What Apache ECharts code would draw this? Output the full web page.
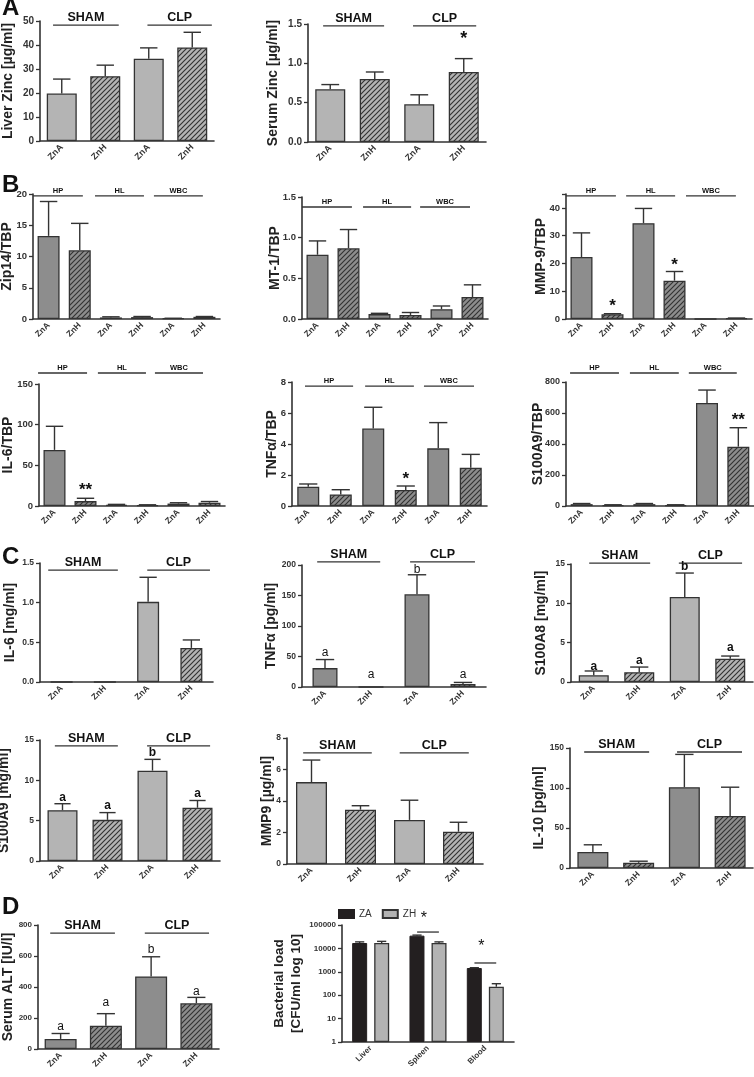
<!DOCTYPE html>
<html><head><meta charset="utf-8">
<script src="https://cdn.jsdelivr.net/npm/echarts@6/dist/echarts.min.js"></script>
<style>html,body{margin:0;padding:0;background:#fff}#c{width:754px;height:1077px}</style>
</head><body><div id="c"></div>
<script>
// ---------- categories ----------
const cat4 = ['ZnA','ZnH','ZnA','ZnH'];
const cat6 = ['ZnA','ZnH','ZnA','ZnH','ZnA','ZnH'];
const organs = ['Liver','Spleen','Blood'];

// ---------- data (mean, upper end of error bar) ----------
const liverZincMean = [19.8, 27.0, 34.3, 39.0];
const liverZincUpper = [25.8, 31.6, 38.8, 45.3];
const serumZincMean = [0.67, 0.80, 0.48, 0.89];
const serumZincUpper = [0.73, 0.89, 0.60, 1.06];

const zip14Mean = [13.3, 11.0, 0.25, 0.3, 0.1, 0.35];
const zip14Upper = [18.8, 15.3, 0.35, 0.4, 0.12, 0.4];
const mt1Mean = [0.79, 0.87, 0.06, 0.05, 0.12, 0.27];
const mt1Upper = [0.96, 1.10, 0.07, 0.08, 0.16, 0.42];
const mmp9TbpMean = [22.3, 1.7, 34.5, 13.8, 0, 0.3];
const mmp9TbpUpper = [31.0, 1.9, 39.8, 17.1, 0, 0.35];
const il6TbpMean = [69, 6, 1.5, 1, 3, 4];
const il6TbpUpper = [98, 9.5, 2, 1.5, 4, 5.5];
const tnfTbpMean = [1.25, 0.75, 5.0, 1.03, 3.72, 2.47];
const tnfTbpUpper = [1.42, 1.05, 6.37, 1.29, 5.38, 3.33];
const s100a9TbpMean = [12, 6, 12, 6, 665, 383];
const s100a9TbpUpper = [16, 8, 16, 8, 748, 505];

const il6Mean = [0, 0, 1.01, 0.43];
const il6Upper = [0, 0, 1.32, 0.53];
const tnfMean = [31, 0, 152, 5];
const tnfUpper = [45, 0, 184, 7.5];
const s100a8Mean = [0.85, 1.25, 10.8, 2.95];
const s100a8Upper = [1.4, 1.9, 13.85, 3.3];
const s100a9Mean = [6.3, 5.1, 11.2, 6.6];
const s100a9Upper = [7.1, 6.0, 12.6, 7.5];
const mmp9Mean = [5.2, 3.45, 2.8, 2.05];
const mmp9Upper = [6.6, 3.7, 4.05, 2.65];
const il10Mean = [20, 6.5, 101, 65];
const il10Upper = [29, 8.5, 142, 101];

const altMean = [65, 150, 468, 295];
const altUpper = [100, 228, 595, 333];

const bactZaMean = [17000, 35000, 1450];
const bactZaUpper = [19000, 37000, 1500];
const bactZhMean = [17000, 17000, 230];
const bactZhUpper = [20000, 19000, 310];

// ---------- style ----------
const FONT = '"Liberation Sans", Arial, Helvetica, sans-serif';
const LIGHT = '#b4b4b4', DARK = '#8d8d8d', INK = '#333333';
const NAME_FS = 14;
const hatchCache = {};
function hatch(bg){
  if (hatchCache[bg]) return hatchCache[bg];
  const s = 5, c = document.createElement('canvas');
  c.width = s; c.height = s;
  const g = c.getContext('2d');
  g.fillStyle = bg; g.fillRect(0,0,s,s);
  g.strokeStyle = '#333'; g.lineWidth = 1.15;
  g.beginPath();
  g.moveTo(0,s); g.lineTo(s,0);
  g.moveTo(-1,1); g.lineTo(1,-1);
  g.moveTo(s-1,s+1); g.lineTo(s+1,s-1);
  g.stroke();
  return (hatchCache[bg] = {image:c, repeat:'repeat'});
}

const grpB = (y, a, b, c) => [{t:'HP',from:a[0],to:a[1],y},{t:'HL',from:b[0],to:b[1],y},{t:'WBC',from:c[0],to:c[1],y}];
const grpC = (y, a, b) => [{t:'SHAM',from:a[0],to:a[1],y},{t:'CLP',from:b[0],to:b[1],y}];

const panels = [
  // A
  {box:[40,21,174,120], cats:cat4, mean:liverZincMean, upper:liverZincUpper, color:LIGHT, max:50, interval:10, dec:0,
   name:'Liver Zinc [µg/ml]', nameGap:24.5, barW:30, tickFont:10, catFont:9, cap:0.2, gFont:12.5,
   groups:grpC(48.3,[-0.2,1.31],[1.97,3.45]), annots:[]},
  {box:[308,24,178,118], cats:cat4, mean:serumZincMean, upper:serumZincUpper, color:LIGHT, max:1.5, interval:0.5, dec:1,
   name:'Serum Zinc [µg/ml]', nameGap:27.5, barW:30, tickFont:10, catFont:9, cap:0.2, gFont:12.5,
   groups:grpC(1.475,[-0.16,1.21],[1.86,3.28]), annots:[{t:'*',at:3,y:1.36,fs:18,bold:true}]},
  // B row 1
  {box:[33,194,187,125], cats:cat6, mean:zip14Mean, upper:zip14Upper, color:DARK, max:20, interval:5, dec:0,
   name:'Zip14/TBP', nameGap:19, barW:22, tickFont:9.5, catFont:8.5, cap:0.28, gFont:7.5,
   groups:grpB(19.7,[-0.5,1.1],[1.49,3.06],[3.38,4.95]), annots:[]},
  {box:[302,197,186,122], cats:cat6, mean:mt1Mean, upper:mt1Upper, color:DARK, max:1.5, interval:0.5, dec:1,
   name:'MT-1/TBP', nameGap:20, barW:22, tickFont:9.5, catFont:8.5, cap:0.28, gFont:7.5,
   groups:grpB(1.377,[-0.5,1.11],[1.47,3.02],[3.31,4.92]), annots:[]},
  {box:[566,194,186,125], cats:cat6, mean:mmp9TbpMean, upper:mmp9TbpUpper, color:DARK, max:45, interval:10, dec:0, hideMax:true,
   name:'MMP-9/TBP', nameGap:18, barW:22, tickFont:9.5, catFont:8.5, cap:0.28, gFont:7.5,
   groups:grpB(44.3,[-0.5,1.11],[1.44,3.02],[3.37,4.98]),
   annots:[{t:'*',at:1,y:5.8,fs:17,bold:true},{t:'*',at:3,y:20.6,fs:17,bold:true}]},
  // B row 2
  {box:[39,384,186,122], cats:cat6, mean:il6TbpMean, upper:il6TbpUpper, color:DARK, max:150, interval:50, dec:0,
   name:'IL-6/TBP', nameGap:23.5, barW:22, tickFont:9.5, catFont:8.5, cap:0.28, gFont:7.5,
   groups:grpB(163.5,[-0.53,1.05],[1.4,2.95],[3.24,4.79]), annots:[{t:'**',at:1,y:23.4,fs:17,bold:true}]},
  {box:[292,382,195,124], cats:cat6, mean:tnfTbpMean, upper:tnfTbpUpper, color:DARK, max:8, interval:2, dec:0,
   name:'TNFα/TBP', nameGap:13, barW:22, tickFont:9.5, catFont:8.5, cap:0.28, gFont:7.5,
   groups:grpB(7.74,[-0.1,1.38],[1.75,3.25],[3.56,5.1]), annots:[{t:'*',at:3,y:1.94,fs:17,bold:true}]},
  {box:[566,382,188,124], cats:cat6, mean:s100a9TbpMean, upper:s100a9TbpUpper, color:DARK, max:800, interval:200, dec:0,
   name:'S100A9/TBP', nameGap:21, barW:22, tickFont:9, catFont:8.5, cap:0.28, gFont:7.5,
   groups:grpB(858,[-0.37,1.19],[1.54,3.1],[3.42,4.95]), annots:[{t:'**',at:5,y:574,fs:17,bold:true}]},
  // C row 1
  {box:[40,563,173,119], cats:cat4, mean:il6Mean, upper:il6Upper, color:LIGHT, max:1.5, interval:0.5, dec:1,
   name:'IL-6 [mg/ml]', nameGap:22.5, barW:22, tickFont:8.5, catFont:8.5, cap:0.2, gFont:12.5,
   groups:grpC(1.41,[-0.31,1.3],[1.98,3.43]), annots:[]},
  {box:[302,565,184,122], cats:cat4, mean:tnfMean, upper:tnfUpper, color:DARK, max:200, interval:50, dec:0,
   name:'TNFα [pg/ml]', nameGap:23.5, barW:25, tickFont:8.5, catFont:8.5, cap:0.2, gFont:12.5,
   groups:grpC(205,[-0.17,1.2],[1.85,3.26]),
   annots:[{t:'a',at:0,y:57,fs:12},{t:'a',at:1,y:20,fs:12},{t:'b',at:2,y:192,fs:12},{t:'a',at:3,y:20,fs:12}]},
  {box:[571,564,182,118], cats:cat4, mean:s100a8Mean, upper:s100a8Upper, color:LIGHT, max:15, interval:5, dec:0,
   name:'S100A8 [mg/ml]', nameGap:22.5, barW:30, tickFont:8.5, catFont:8.5, cap:0.2, gFont:12.5,
   groups:grpC(15.1,[-0.1,1.24],[1.87,3.26]),
   annots:[{t:'a',at:0,y:2.0,fs:12,bold:true},{t:'a',at:1,y:2.7,fs:12,bold:true},{t:'b',at:2,y:14.6,fs:12,bold:true},{t:'a',at:3,y:4.3,fs:12,bold:true}]},
  // C row 2
  {box:[40,740,180,121], cats:cat4, mean:s100a9Mean, upper:s100a9Upper, color:LIGHT, max:15, interval:5, dec:0,
   name:'S100A9 [mg/ml]', nameGap:28.5, barW:30, tickFont:8.5, catFont:8.5, cap:0.18, gFont:12.5,
   groups:grpC(14.26,[-0.17,1.23],[1.88,3.28]),
   annots:[{t:'a',at:0,y:7.9,fs:12,bold:true},{t:'a',at:1,y:6.8,fs:12,bold:true},{t:'b',at:2,y:13.4,fs:12,bold:true},{t:'a',at:3,y:8.4,fs:12,bold:true}]},
  {box:[287,738,196,126], cats:cat4, mean:mmp9Mean, upper:mmp9Upper, color:LIGHT, max:8, interval:2, dec:0,
   name:'MMP9 [µg/ml]', nameGap:13, barW:31, tickFont:8.5, catFont:8.5, cap:0.18, gFont:12.5,
   groups:grpC(7.05,[-0.17,1.23],[1.8,3.21]), annots:[]},
  {box:[570,748,183,120], cats:cat4, mean:il10Mean, upper:il10Upper, color:DARK, max:150, interval:50, dec:0,
   name:'IL-10 [pg/ml]', nameGap:23.5, barW:31, tickFont:8.5, catFont:8.5, cap:0.2, gFont:12.5,
   groups:grpC(145,[-0.19,1.23],[1.84,3.26]), annots:[]},
  // D
  {box:[38,925,181,124], cats:cat4, mean:altMean, upper:altUpper, color:DARK, max:800, interval:200, dec:0,
   name:'Serum ALT [IU/l]', nameGap:22.5, barW:32, tickFont:8, catFont:8.5, cap:0.2, gFont:12.5,
   groups:grpC(748,[-0.23,1.2],[1.86,3.28]),
   annots:[{t:'a',at:0,y:144,fs:12},{t:'a',at:1,y:297,fs:12},{t:'b',at:2,y:639,fs:12},{t:'a',at:3,y:372,fs:12}]}
];

const grids = [], xAxes = [], yAxes = [], series = [];

function axisCommonX(i, cats, fs){
  return {gridIndex:i, type:'category', data:cats,
    axisLine:{lineStyle:{color:INK,width:1.6}},
    axisTick:{alignWithLabel:true,length:4,lineStyle:{color:INK,width:1.3}},
    axisLabel:{rotate:45, interval:0, fontSize:fs, fontWeight:'bold', color:'#333', margin:5, fontFamily:FONT}};
}

function annotSeries(i, p){
  return {type:'custom', xAxisIndex:i, yAxisIndex:i, clip:false, silent:true, z:5,
    data:[[0, p.baseY]],
    renderItem:function(params, api){
      const c0 = api.coord([0, p.baseY]), c1 = api.coord([1, p.baseY]);
      const band = c1[0]-c0[0];
      const kids = [];
      p.groups.forEach(g=>{
        const y = api.coord([0, g.y])[1];
        const x1 = c0[0]+g.from*band, x2 = c0[0]+g.to*band;
        kids.push({type:'line', shape:{x1:x1,y1:y,x2:x2,y2:y}, style:{stroke:'#333',lineWidth:1.3}});
        if (g.t) kids.push({type:'text', x:(x1+x2)/2, y:y-1,
          style:{text:g.t, fill:'#111', fontSize:p.gFont, fontWeight:'bold', fontFamily:FONT, align:'center', verticalAlign:'bottom'}});
      });
      p.annots.forEach(a=>{
        const y = api.coord([0, a.y])[1];
        const x = c0[0]+a.at*band;
        const isStar = a.t.indexOf('*')>=0;
        kids.push({type:'text', x:x, y:y + (isStar ? a.fs*0.22 : 0),
          style:{text:a.t, fill:'#111', fontSize:a.fs, fontWeight:a.bold?'bold':'normal', fontFamily:FONT, align:'center', verticalAlign:'middle'}});
      });
      return {type:'group', children:kids};
    }};
}

function errSeries(i, mean, upper, capFrac, dx){
  return {type:'custom', xAxisIndex:i, yAxisIndex:i, clip:false, silent:true, z:4,
    data: mean.map((v,k)=>[k, v, upper[k]]),
    renderItem:function(params, api){
      const x = api.value(0), v = api.value(1), u = api.value(2);
      if (!(u > v)) return null;
      const p0 = api.coord([x, v]), p1 = api.coord([x, u]);
      const band = api.size([1, 0])[0];
      const h = band*capFrac, ox = dx || 0;
      return {type:'group', children:[
        {type:'line', shape:{x1:p0[0]+ox,y1:p0[1],x2:p1[0]+ox,y2:p1[1]}, style:{stroke:'#333',lineWidth:1.4}},
        {type:'line', shape:{x1:p1[0]+ox-h,y1:p1[1],x2:p1[0]+ox+h,y2:p1[1]}, style:{stroke:'#333',lineWidth:1.4}}
      ]};
    }};
}

panels.forEach((p, i)=>{
  p.baseY = p.groups.length ? p.groups[0].y : 0;
  grids.push({left:p.box[0], top:p.box[1], width:p.box[2], height:p.box[3], containLabel:false, outerBoundsMode:'none'});
  xAxes.push(axisCommonX(i, p.cats, p.catFont));
  yAxes.push({gridIndex:i, type:'value', min:0, max:p.max, interval:p.interval,
    axisLine:{show:true, lineStyle:{color:INK,width:1.6}},
    axisTick:{show:true, length:4, lineStyle:{color:INK,width:1.3}},
    splitLine:{show:false},
    axisLabel:{fontSize:p.tickFont, fontWeight:'bold', color:'#333', margin:6, fontFamily:FONT,
      formatter:(v)=> (p.hideMax && v >= p.max) ? '' : v.toFixed(p.dec)},
    name:p.name, nameLocation:'middle', nameRotate:90, nameGap:p.nameGap, nameMoveOverlap:false,
    nameTextStyle:{fontSize:NAME_FS, fontWeight:'bold', color:'#222', fontFamily:FONT}});
  series.push({type:'bar', xAxisIndex:i, yAxisIndex:i, barWidth:p.barW, silent:true, z:2,
    itemStyle:{borderColor:'#333', borderWidth:1.3},
    data:p.mean.map((v,k)=>({value:v, itemStyle:{color: (k%2===1) ? hatch(p.color) : p.color}}))});
  series.push(errSeries(i, p.mean, p.upper, p.cap, 0));
  series.push(annotSeries(i, p));
});

// ---------- D: bacterial load (log axis, grouped bars) ----------
const bi = panels.length;
const bact = {groups:[{t:'',from:0.81,to:1.19,y:50000},{t:'',from:1.81,to:2.19,y:2380}],
  annots:[{t:'*',at:0.93,y:270000,fs:16},{t:'*',at:1.93,y:17000,fs:16}], baseY:10, gFont:10};
grids.push({left:342, top:925, width:172, height:117, containLabel:false, outerBoundsMode:'none'});
xAxes.push(axisCommonX(bi, organs, 8));
yAxes.push({gridIndex:bi, type:'log', logBase:10, min:1, max:100000,
  axisLine:{show:true, lineStyle:{color:INK,width:1.6}},
  axisTick:{show:true, length:4, lineStyle:{color:INK,width:1.3}},
  splitLine:{show:false}, minorTick:{show:false},
  axisLabel:{fontSize:8, fontWeight:'bold', color:'#333', margin:6, fontFamily:FONT, formatter:(v)=>String(Math.round(v))},
  name:'Bacterial load\n[CFU/ml log 10]', nameLocation:'middle', nameRotate:90, nameGap:37.5, nameMoveOverlap:false,
  nameTextStyle:{fontSize:13.5, fontWeight:'bold', color:'#222', fontFamily:FONT, lineHeight:17}});
series.push({type:'bar', name:'ZA', xAxisIndex:bi, yAxisIndex:bi, barWidth:15, barGap:'47%', silent:true,
  itemStyle:{color:'#231f20', borderColor:'#231f20', borderWidth:1}, data:bactZaMean});
series.push({type:'bar', name:'ZH', xAxisIndex:bi, yAxisIndex:bi, barWidth:15, barGap:'47%', silent:true,
  itemStyle:{color:'#b3b3b3', borderColor:'#333', borderWidth:1.3}, data:bactZhMean});
series.push(errSeries(bi, bactZaMean, bactZaUpper, 0.08, -11));
series.push(errSeries(bi, bactZhMean, bactZhUpper, 0.08, 11));
series.push(annotSeries(bi, bact));

const letters = [['A',-4],['B',173],['C',545],['D',895]].map(([t,y])=>({type:'text', left:2, top:y,
  style:{text:t, fontSize:24, fontWeight:'bold', fill:'#111', fontFamily:FONT}}));

const chart = echarts.init(document.getElementById('c'), null, {renderer:'canvas'});
chart.setOption({
  animation:false, backgroundColor:'#fff',
  textStyle:{fontFamily:FONT},
  grid:grids, xAxis:xAxes, yAxis:yAxes, series:series,
  legend:{data:['ZA','ZH'], left:338, top:909, padding:0, itemWidth:15, itemHeight:8, itemGap:10, icon:'rect',
    textStyle:{fontSize:10, color:'#333', fontFamily:FONT}},
  graphic:letters
});
</script>
</body></html>
